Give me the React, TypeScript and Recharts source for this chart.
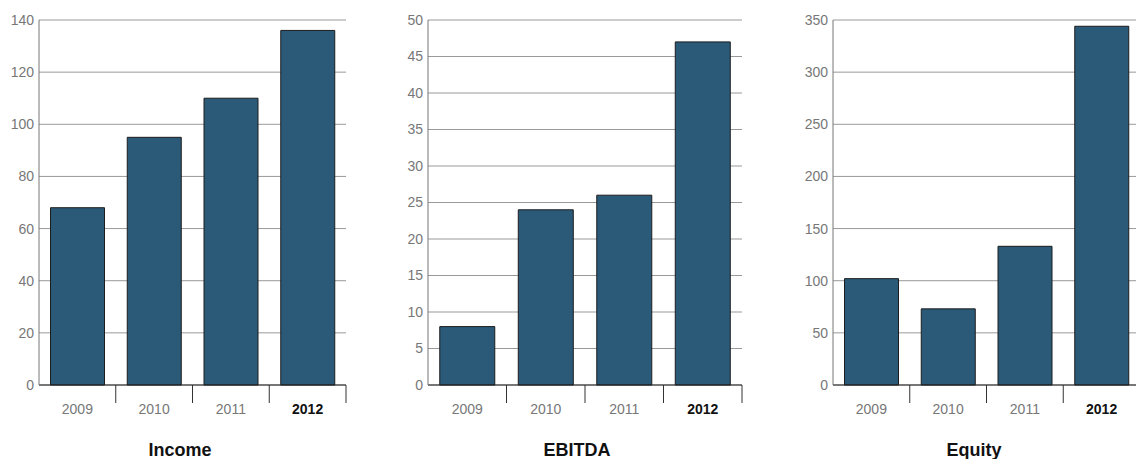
import React from "react";
import { BarChart, Bar, XAxis, YAxis, CartesianGrid } from "recharts";

const years = ["2009", "2010", "2011", "2012"];
const incomeValues = [68, 95, 110, 136];
const ebitdaValues = [8, 24, 26, 47];
const equityValues = [102, 73, 133, 344];
const incomeTicks = [0, 20, 40, 60, 80, 100, 120, 140];
const ebitdaTicks = [0, 5, 10, 15, 20, 25, 30, 35, 40, 45, 50];
const equityTicks = [0, 50, 100, 150, 200, 250, 300, 350];
const titles = ["Income", "EBITDA", "Equity"];

const FONT = '"Liberation Sans", Arial, Helvetica, sans-serif';

type PanelProps = {
  title: string;
  values: number[];
  ticks: number[];
  left: number;
  width: number;
  yAxisWidth: number;
  marginRight: number;
  titleCenter: number;
};

const makeTick = (bandwidth: number) => (props: any) => {
  const { x, y, payload, index } = props;
  const bold = index === years.length - 1;
  const bx = x + bandwidth / 2;
  return (
    <g>
      <line x1={bx} y1={y} x2={bx} y2={y + 18} stroke="#333" strokeWidth={1} />
      <text
        x={x}
        y={y + 29}
        textAnchor="middle"
        fontFamily={FONT}
        fontSize={14}
        fontWeight={bold ? 700 : 400}
        fill={bold ? "#111" : "#777"}
      >
        {payload.value}
      </text>
    </g>
  );
};

function Panel({ title, values, ticks, left, width, yAxisWidth, marginRight, titleCenter }: PanelProps) {
  const data = years.map((year, i) => ({ year, value: values[i] }));
  const plotWidth = width - yAxisWidth - marginRight;
  const bandwidth = plotWidth / years.length;
  const Tick = makeTick(bandwidth);
  return (
    <>
      <div style={{ position: "absolute", left, top: 0 }}>
        <BarChart
          width={width}
          height={459}
          data={data}
          margin={{ top: 20, right: marginRight, left: 0, bottom: 44 }}
          barCategoryGap="15%"
        >
          <CartesianGrid vertical={false} stroke="#999" strokeWidth={1} />
          <XAxis
            dataKey="year"
            height={30}
            axisLine={{ stroke: "#222", strokeWidth: 1 }}
            tickLine={false}
            tickSize={0}
            tickMargin={0}
            interval={0}
            tick={<Tick />}
          />
          <YAxis
            width={yAxisWidth}
            domain={[ticks[0], ticks[ticks.length - 1]]}
            ticks={ticks}
            interval={0}
            axisLine={{ stroke: "#777", strokeWidth: 1 }}
            tickLine={false}
            tickSize={0}
            tickMargin={5}
            tick={{ fill: "#777", fontSize: 14, fontFamily: FONT }}
          />
          <Bar
            dataKey="value"
            fill="#2b5a78"
            stroke="#1c1c1c"
            strokeWidth={1}
            isAnimationActive={false}
          />
        </BarChart>
      </div>
      <div
        style={{
          position: "absolute",
          left: titleCenter - 100,
          top: 441,
          width: 200,
          textAlign: "center",
          fontFamily: FONT,
          fontSize: 18,
          lineHeight: "18px",
          fontWeight: 700,
          color: "#111",
        }}
      >
        {title}
      </div>
    </>
  );
}

export default function App() {
  return (
    <div
      style={{
        position: "fixed",
        left: 0,
        top: 0,
        width: 1136,
        height: 459,
        overflow: "hidden",
        background: "#fff",
      }}
    >
      <Panel title={titles[0]} values={incomeValues} ticks={incomeTicks} left={0} width={360} yAxisWidth={39} marginRight={14} titleCenter={180} />
      <Panel title={titles[1]} values={ebitdaValues} ticks={ebitdaTicks} left={380} width={380} yAxisWidth={48} marginRight={18} titleCenter={577} />
      <Panel title={titles[2]} values={equityValues} ticks={equityTicks} left={770} width={372} yAxisWidth={63} marginRight={2} titleCenter={974} />
    </div>
  );
}
